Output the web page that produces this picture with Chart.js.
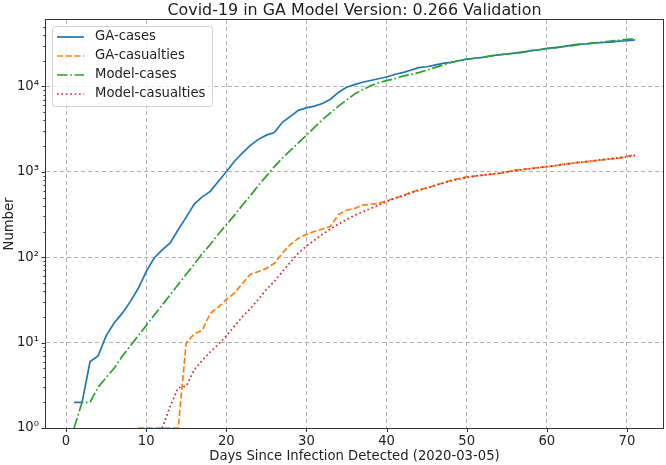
<!DOCTYPE html>
<html>
<head>
<meta charset="utf-8">
<script src="https://cdn.jsdelivr.net/npm/chart.js@4/dist/chart.umd.min.js"></script>
<style>
  html, body { margin: 0; padding: 0; background: #fff; }
  #chart { display: block; }
</style>
</head>
<body>
<canvas id="chart" width="666" height="465"></canvas>
<script>
// --- data
const days = [1,2,3,4,5,6,7,8,9,10,11,12,13,14,15,16,17,18,19,20,
  21,22,23,24,25,26,27,28,29,30,31,32,33,34,35,36,37,38,39,40,
  41,42,43,44,45,46,47,48,49,50,51,52,53,54,55,56,57,58,59,60,
  61,62,63,64,65,66,67,68,69,70,71];

const gaCases = [2,2,6,7,12,17,22,30,43,68,98,122,147,210,295,420,510,590,770,1000,
  1320,1660,2040,2400,2690,2880,3800,4470,5250,5620,5890,6310,7080,8510,9770,10500,11200,11750,12300,12900,
  13800,14500,15500,16600,17000,17800,18600,19100,20000,20900,21400,21900,22900,23400,24000,24500,25100,26300,26900,27900,
  28500,29200,30200,31300,31600,32400,32700,33100,33900,34300,35100];

const gaCasualties = [null,null,null,null,null,null,null,null,1,1,1,1,1,1,10,12.6,14,22,26,32,
  38,49,63,68,74,85,112,141,166,186,200,214,229,316,355,372,407,417,427,457,
  490,525,575,617,646,692,741,794,832,871,891,912,933,955,1000,1047,1072,1096,1122,1148,
  1175,1230,1259,1288,1318,1349,1380,1413,1445,1514,1585];

const modelCases = [1,2,2,3,3.9,5,6.9,9.1,12,15.8,20.9,27.5,36.3,47.9,63.1,83.2,110,141,186,240,
  309,407,525,692,891,1150,1450,1780,2190,2690,3310,4070,4900,5890,6920,8130,9120,10200,11000,11700,
  12300,13200,13800,14500,15500,16600,17800,19100,20000,20700,21400,21900,22600,23400,24000,24500,25400,26000,26900,27500,
  28200,29200,29900,30900,31600,32400,33100,33900,34700,35500,36300];

const modelCasualties = [null,null,null,null,null,null,null,null,null,null,null,1,1.8,2.95,3.1,4.8,6.2,7.8,9.5,12,
  15.5,20,25,32,42,52,68,87,112,135,158,186,214,245,275,309,339,372,407,447,
  490,520,565,605,645,690,735,780,820,860,890,915,940,965,995,1030,1060,1090,1120,1150,
  1180,1220,1255,1290,1320,1355,1390,1425,1460,1510,1560];

const xTicks = [0,10,20,30,40,50,60,70];
const yMajor = [1,10,100,1000,10000];
const yMinor = [2,3,4,5,6,7,8,9,20,30,40,50,60,70,80,90,200,300,400,500,600,700,800,900,
  2000,3000,4000,5000,6000,7000,8000,9000,20000,30000,40000,50000];

const FONT = "'DejaVu Sans', sans-serif";
const GRID = "rgba(170,170,170,0.9)";
const SUP = { "0":"⁰","1":"¹","2":"²","3":"³","4":"⁴" };

const series = [
  { label: "GA-cases", data: gaCases, color: "#1f77b4", dash: [] },
  { label: "GA-casualties", data: gaCasualties, color: "#ff7f0e", dash: [6.1, 2.6] },
  { label: "Model-cases", data: modelCases, color: "#2ca02c", dash: [10.6, 2.6, 1.7, 2.6] },
  { label: "Model-casualties", data: modelCasualties, color: "#d62728", dash: [1.7, 2.7] }
];

const isMajor = v => yMajor.includes(v);

/* === frame, ticks, title, legend (matplotlib look) */
const mplPlugin = {
  id: "mplLook",
  afterDraw(chart) {
    const ctx = chart.ctx;
    const { left, right, top, bottom } = chart.chartArea;
    const xs = chart.scales.x, ys = chart.scales.y;
    ctx.save();
    ctx.strokeStyle = "#333";
    ctx.lineWidth = 1;
    ctx.setLineDash([]);
    ctx.strokeRect(left - 0.5, top - 0.5, right - left + 1, bottom - top + 1);

    // tick marks
    ctx.beginPath();
    xTicks.forEach(v => {
      const x = Math.round(xs.getPixelForValue(v)) + 0.5;
      ctx.moveTo(x, bottom); ctx.lineTo(x, bottom + 4);
    });
    yMajor.forEach(v => {
      const y = Math.round(ys.getPixelForValue(v)) + 0.5;
      ctx.moveTo(left - 4.5, y); ctx.lineTo(left, y);
    });
    yMinor.forEach(v => {
      const y = Math.round(ys.getPixelForValue(v)) + 0.5;
      ctx.moveTo(left - 2.5, y); ctx.lineTo(left, y);
    });
    ctx.stroke();

    // title
    ctx.fillStyle = "#222";
    ctx.font = "15.9px " + FONT;
    ctx.textAlign = "center";
    ctx.textBaseline = "middle";
    ctx.fillText("Covid-19 in GA Model Version: 0.266 Validation", (left + right) / 2, 11);

    // legend
    const lx = 52.5, ly = 26.5, lw = 160, lh = 80;
    ctx.fillStyle = "rgba(255,255,255,0.8)";
    ctx.strokeStyle = "#d0d0d0";
    ctx.beginPath();
    ctx.roundRect(lx, ly, lw, lh, 3);
    ctx.fill();
    ctx.stroke();
    ctx.font = "13.2px " + FONT;
    ctx.textAlign = "left";
    series.forEach((s, i) => {
      const y = 37 + i * 19;
      ctx.strokeStyle = s.color;
      ctx.lineWidth = 1.7;
      ctx.setLineDash(s.dash);
      ctx.beginPath();
      ctx.moveTo(57, y); ctx.lineTo(84, y);
      ctx.stroke();
      ctx.fillStyle = "#222";
      ctx.fillText(s.label, 95, y);
    });
    ctx.restore();
  }
};

new Chart(document.getElementById("chart"), {
  type: "line",
  data: {
    datasets: series.map((s, i) => ({
      label: s.label,
      data: days.map((d, k) => ({ x: d, y: s.data[k] })),
      borderColor: s.color,
      borderWidth: 1.7,
      borderDash: s.dash,
      pointRadius: 0,
      tension: 0,
      fill: false,
      clip: { left: 0, top: 0, right: 0, bottom: 2 },
      order: 3 - i
    }))
  },
  options: {
    responsive: false,
    animation: false,
    devicePixelRatio: 1,
    events: [],
    layout: { padding: { top: 20, right: 3, left: 0, bottom: 0 } },
    plugins: { legend: { display: false }, tooltip: { enabled: false }, title: { display: false } },
    scales: {
      x: {
        type: "linear",
        min: -2.5,
        max: 74.5,
        afterFit: s => { s.height = 37; },
        afterBuildTicks: s => { s.ticks = xTicks.map(v => ({ value: v })); },
        ticks: { color: "#222", font: { family: FONT, size: 13.2 }, padding: 6, autoSkip: false, maxRotation: 0 },
        grid: { color: GRID, lineWidth: 1, drawTicks: false },
        border: { display: false, dash: [4, 3] },
        title: { display: true, text: "Days Since Infection Detected (2020-03-05)", color: "#222",
          font: { family: FONT, size: 13.2 }, padding: { top: 0, bottom: 1 } }
      },
      y: {
        type: "logarithmic",
        min: 1,
        max: 60000,
        afterFit: s => { s.width = 46; },
        afterBuildTicks: s => { s.ticks = yMajor.concat(yMinor).sort((a, b) => a - b).map(v => ({ value: v })); },
        ticks: {
          color: "#222", font: { family: FONT, size: 13.2 }, padding: 7, autoSkip: false,
          callback: v => isMajor(v) ? "10" + SUP[String(Math.round(Math.log10(v)))] : ""
        },
        grid: { color: c => (c.tick && isMajor(c.tick.value)) ? GRID : "rgba(0,0,0,0)", lineWidth: 1, drawTicks: false },
        border: { display: false, dash: [4, 3] },
        title: { display: true, text: "Number", color: "#222",
          font: { family: FONT, size: 13.2 }, padding: { top: 2, bottom: 0 } }
      }
    }
  },
  plugins: [mplPlugin]
});
</script>
</body>
</html>
